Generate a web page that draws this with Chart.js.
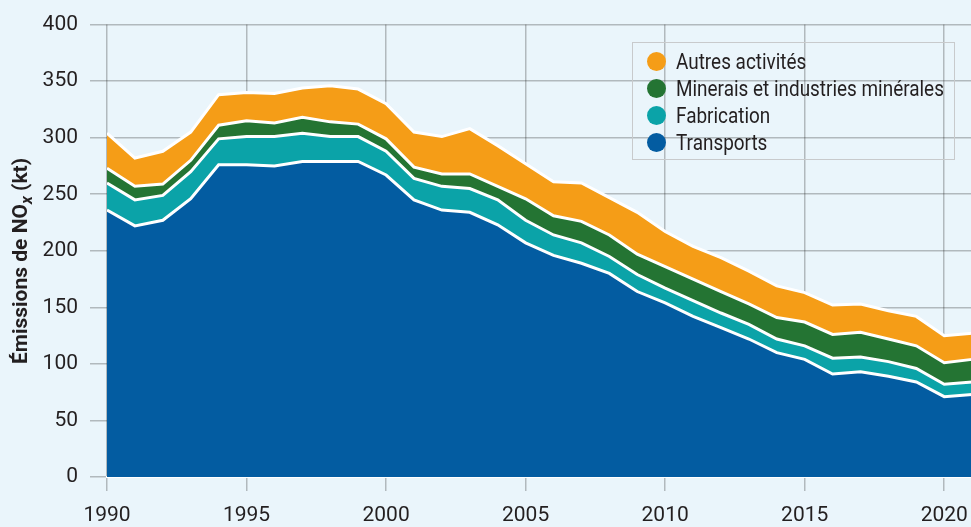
<!DOCTYPE html>
<html lang="fr">
<head>
<meta charset="utf-8">
<script src="https://cdn.jsdelivr.net/npm/chart.js@4.4.1/dist/chart.umd.min.js"></script>
<style>
  html, body { margin: 0; padding: 0; background: #eaf5fb; overflow: hidden; }
  #wrap { position: absolute; left: 0; top: 0; width: 980px; height: 527px; }
  #legend {
    position: absolute; left: 632px; top: 42px; width: 323px; height: 118px;
    border: 1.5px solid #c8cacc; padding-top: 5px; box-sizing: border-box;
    font-family: "Liberation Sans Narrow", "Roboto", sans-serif; font-size: 22px; color: #231f20;
  }
  #legend div { height: 27px; line-height: 27px; position: relative; padding-left: 43px; white-space: nowrap; }
  #legend span { position: absolute; left: 14px; top: 4px; width: 19px; height: 19px; border-radius: 50%; }
  #legend b { font-weight: normal; display: inline-block; transform: scaleX(0.86); transform-origin: left center; }
</style>
</head>
<body>
<div id="wrap"><canvas id="myChart"></canvas></div>
<div id="legend"></div>
<script>
const years = [1990, 1991, 1992, 1993, 1994, 1995, 1996, 1997, 1998, 1999, 2000,
  2001, 2002, 2003, 2004, 2005, 2006, 2007, 2008, 2009, 2010,
  2011, 2012, 2013, 2014, 2015, 2016, 2017, 2018, 2019, 2020, 2021];
const transports = [236, 222, 227, 246, 276, 276, 275, 279, 279, 279, 267,
  245, 236, 234, 223, 207, 196, 189, 180, 164, 154,
  142, 132, 122, 110, 104, 91, 93, 89, 84, 71, 73];
const fabrication = [24, 23, 22, 24, 23, 25, 26, 25, 22, 22, 21,
  19, 21, 21, 22, 20, 18, 18, 15, 15, 13,
  14, 13, 13, 12, 12, 14, 13, 13, 12, 11, 11];
const minerais = [13, 12, 10, 10, 12, 14, 12, 14, 13, 11, 11,
  10, 11, 13, 12, 19, 17, 19, 19, 18, 19,
  19, 19, 18, 19, 21, 21, 22, 20, 20, 19, 20];
const autres = [31, 25, 29, 25, 27, 25, 26, 26, 32, 31, 31,
  31, 33, 40, 36, 31, 30, 34, 33, 37, 31,
  29, 30, 29, 28, 26, 26, 25, 25, 26, 24, 23];
const yTicks = [0, 50, 100, 150, 200, 250, 300, 350, 400];

const fontFamily = '"Liberation Sans Narrow", "Roboto", sans-serif';
const textColor = "#231f20";

const series = [
  { label: "Transports", values: transports, color: "#035ca1" },
  { label: "Fabrication", values: fabrication, color: "#0ba3a8" },
  { label: "Minerais et industries minérales", values: minerais, color: "#247433" },
  { label: "Autres activités", values: autres, color: "#f59d17" },
];

const datasets = series.map((s, i) => ({
  label: s.label,
  data: years.map((yr, j) => ({ x: yr, y: s.values[j] })),
  backgroundColor: s.color,
  borderColor: "#ffffff",
  borderWidth: 3,
  pointRadius: 0,
  tension: 0,
  fill: i === 0 ? "origin" : "-1",
}));

// y axis title with an italic subscript x
const axisTitle = {
  id: "axisTitle",
  afterDraw(chart) {
    const ctx = chart.ctx;
    const parts = [
      { t: "Émissions de NO", f: "bold 21px " + fontFamily, dy: 0 },
      { t: "x", f: "italic bold 16px " + fontFamily, dy: 5 },
      { t: " (kt)", f: "bold 21px " + fontFamily, dy: 0 },
    ];
    ctx.save();
    let total = 0;
    parts.forEach(p => { ctx.font = p.f; p.w = ctx.measureText(p.t).width; total += p.w; });
    ctx.translate(27, 261);
    ctx.rotate(-Math.PI / 2);
    ctx.fillStyle = textColor;
    ctx.textBaseline = "alphabetic";
    let x = -total / 2;
    parts.forEach(p => {
      ctx.font = p.f;
      ctx.fillText(p.t, x, p.dy);
      x += p.w;
    });
    ctx.restore();
  },
};

const ctx = document.getElementById("myChart");
new Chart(ctx, {
  type: "line",
  data: { datasets },
  plugins: [axisTitle],
  options: {
    responsive: true,
    maintainAspectRatio: false,
    animation: false,
    layout: { padding: { top: 19, right: 5, left: 0, bottom: 0 } },
    plugins: { legend: { display: false }, tooltip: { enabled: false } },
    scales: {
      x: {
        type: "linear",
        min: 1990,
        max: 2021,
        z: 1,
        afterFit: s => { s.height = 50; },
        grid: { color: "rgba(30,30,30,0.28)", lineWidth: 1.5, tickLength: 14 },
        border: { color: "#ffffff", width: 2 },
        ticks: {
          stepSize: 5,
          includeBounds: false,
          padding: 12,
          color: textColor,
          font: { family: fontFamily, size: 21 },
          callback: v => String(v),
        },
      },
      y: {
        min: 0,
        max: 400,
        stacked: true,
        z: 1,
        afterFit: s => { s.width = 107; },
        afterBuildTicks: s => { s.ticks = yTicks.map(v => ({ value: v })); },
        grid: { color: "rgba(30,30,30,0.28)", lineWidth: 1.5, tickLength: 17 },
        border: { display: false },
        ticks: {
          padding: 12,
          color: textColor,
          font: { family: fontFamily, size: 21 },
        },
      },
    },
  },
});

// legend, top entry first
const legend = document.getElementById("legend");
series.slice().reverse().forEach(s => {
  const row = document.createElement("div");
  const dot = document.createElement("span");
  dot.style.background = s.color;
  const txt = document.createElement("b");
  txt.textContent = s.label;
  row.appendChild(dot);
  row.appendChild(txt);
  legend.appendChild(row);
});
</script>
</body>
</html>
